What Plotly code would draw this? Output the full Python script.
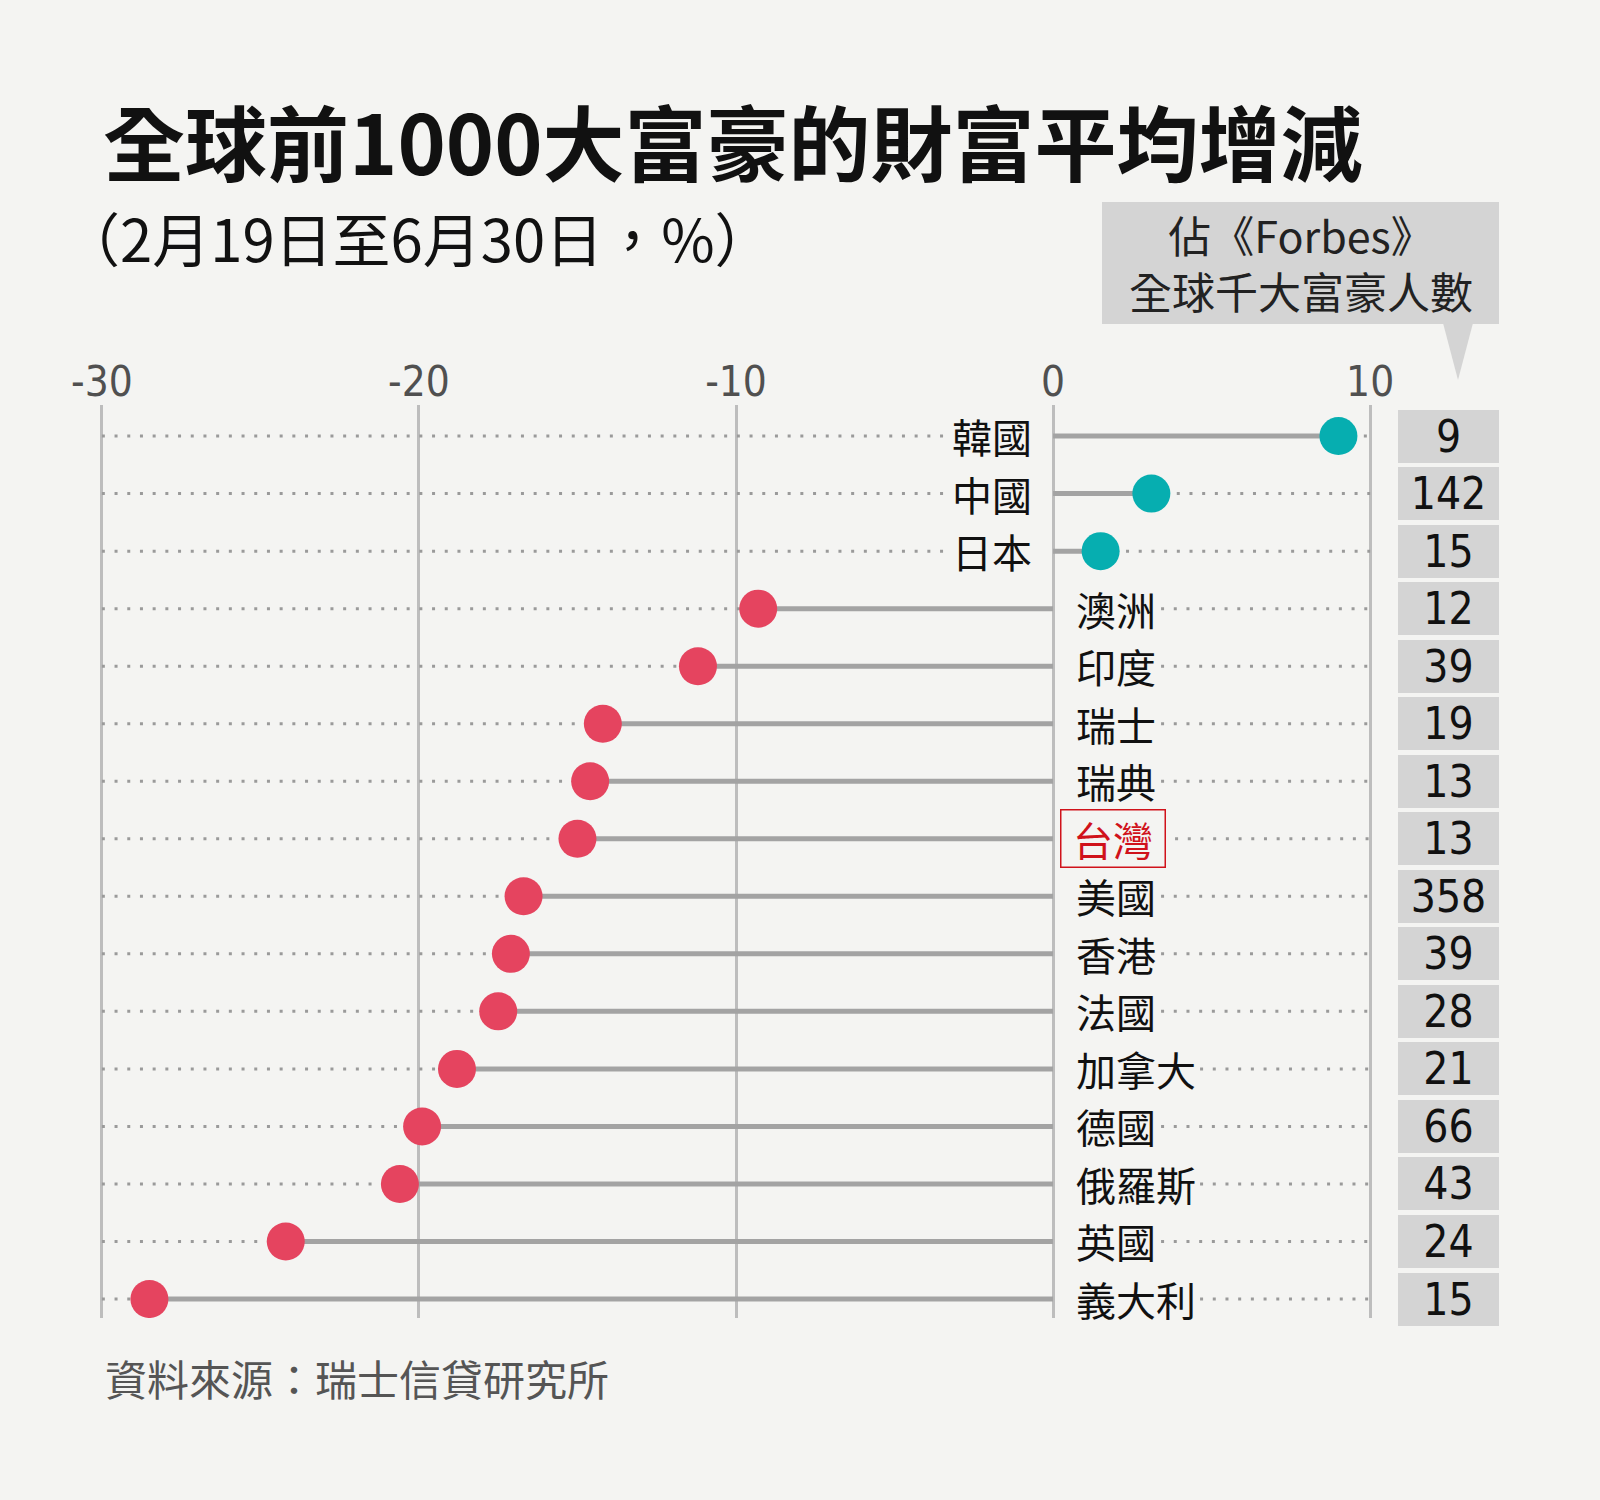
import plotly.graph_objects as go

# data
countries = ["韓國", "中國", "日本", "澳洲", "印度", "瑞士", "瑞典", "台灣",
             "美國", "香港", "法國", "加拿大", "德國", "俄羅斯", "英國", "義大利"]
change_pct = [9.0, 3.1, 1.5, -9.3, -11.2, -14.2, -14.6, -15.0,
              -16.7, -17.1, -17.5, -18.8, -19.9, -20.6, -24.2, -28.5]
forbes_count = [9, 142, 15, 12, 39, 19, 13, 13, 358, 39, 28, 21, 66, 43, 24, 15]
x_ticks = [-30, -20, -10, 0, 10]
highlight = "台灣"

title = "全球前1000大富豪的財富平均增減"
subtitle = "（2月19日至6月30日，%）"
count_header = ["佔《Forbes》", "全球千大富豪人數"]
source = "資料來源：瑞士信貸研究所"

# look
BG = "#f4f4f2"
TEAL = "#06aeb0"
PINK = "#e5445f"
RED = "#d0121b"
STEM = "#a3a3a3"
BOX = "#d4d4d4"
CJK = "Noto Sans CJK TC, Noto Sans CJK SC, sans-serif"
NARROW = "Liberation Sans Narrow, DejaVu Sans Condensed, Roboto, sans-serif"

W, H = 1600, 1500
L, R, T, B = 86, 214, 405, 182
PW, PH = W - L - R, H - T - B
X_RANGE = [-30.5, 10.5]
PPU = PW / (X_RANGE[1] - X_RANGE[0])
LABEL_SIZE = 40


def px(x):
    return (x - L) / PW


def py(y):
    return (H - B - y) / PH


# dotted guide lines, broken where the stem and the label sit
dot_x, dot_y = [], []
stem_x, stem_y = [], []
for c, v in zip(countries, change_pct):
    gap = (22 + len(c) * 39 + 8 + (14 if c == highlight else 0)) / PPU
    if v >= 0:
        segs = [(x_ticks[0], -gap), (v, x_ticks[-1])]
    else:
        segs = [(x_ticks[0], v), (gap, x_ticks[-1])]
    for a, b in segs:
        dot_x += [a, b, None]
        dot_y += [c, c, None]
    stem_x += [0, v, None]
    stem_y += [c, c, None]

fig = go.Figure()
fig.add_trace(go.Scatter(x=dot_x, y=dot_y, mode="lines", hoverinfo="skip",
                         line=dict(color="#9a9a9a", width=3, dash="3px,9.7px")))
fig.add_trace(go.Scatter(x=stem_x, y=stem_y, mode="lines", hoverinfo="skip",
                         line=dict(color=STEM, width=5)))
fig.add_trace(go.Scatter(x=change_pct, y=countries, mode="markers",
                         marker=dict(size=38, color=[TEAL if v >= 0 else PINK for v in change_pct],
                                     line=dict(width=0))))

ann = []
for c, v, n in zip(countries, change_pct, forbes_count):
    if c == highlight:
        ann.append(dict(x=0, y=c, xref="x", yref="y", text=c, showarrow=False,
                        xanchor="left", xshift=7, width=103, height=56,
                        bordercolor=RED, borderwidth=1.5, borderpad=0,
                        font=dict(family=CJK, size=LABEL_SIZE, color=RED)))
    elif v >= 0:
        ann.append(dict(x=0, y=c, xref="x", yref="y", text=c, showarrow=False,
                        xanchor="right", xshift=-19,
                        font=dict(family=CJK, size=LABEL_SIZE, color="#111111")))
    else:
        ann.append(dict(x=0, y=c, xref="x", yref="y", text=c, showarrow=False,
                        xanchor="left", xshift=21,
                        font=dict(family=CJK, size=LABEL_SIZE, color="#111111")))
    # count boxes on the right
    ann.append(dict(x=px(1448.5), y=c, xref="paper", yref="y", text=str(n),
                    showarrow=False, xanchor="center", yanchor="middle",
                    width=101, height=53, bgcolor=BOX,
                    borderwidth=0, borderpad=0,
                    font=dict(family=NARROW, size=44, color="#111111")))

ann += [
    dict(x=px(101), y=py(140), xref="paper", yref="paper", text="<b>" + title + "</b>",
         showarrow=False, xanchor="left", yanchor="middle",
         font=dict(family=CJK, size=82, color="#111111")),
    dict(x=px(60), y=py(237), xref="paper", yref="paper", text=subtitle,
         showarrow=False, xanchor="left", yanchor="middle",
         font=dict(family=CJK, size=58, color="#111111")),
    dict(x=px(1301), y=py(262), xref="paper", yref="paper",
         text=count_header[0] + "<br>" + count_header[1],
         showarrow=False, xanchor="center", yanchor="middle", align="center",
         font=dict(family=CJK, size=43, color="#222222")),
    dict(x=px(103), y=py(1377), xref="paper", yref="paper", text=source,
         showarrow=False, xanchor="left", yanchor="middle",
         font=dict(family=CJK, size=42, color="#555555")),
]

shapes = [
    dict(type="rect", xref="paper", yref="paper", layer="below",
         x0=px(1102), x1=px(1499), y0=py(324), y1=py(202),
         fillcolor=BOX, line=dict(width=0)),
    dict(type="path", xref="paper", yref="paper", layer="below",
         path=f"M {px(1443)},{py(323)} L {px(1473)},{py(323)} L {px(1458)},{py(380)} Z",
         fillcolor=BOX, line=dict(width=0)),
]

fig.update_layout(
    width=W, height=H,
    margin=dict(l=L, r=R, t=T, b=B),
    paper_bgcolor=BG, plot_bgcolor=BG,
    showlegend=False,
    annotations=ann,
    shapes=shapes,
    xaxis=dict(range=X_RANGE, side="top", tickvals=x_ticks, ticktext=[str(t) for t in x_ticks],
               showgrid=True, gridcolor="#bdbdbd", gridwidth=2.5, zeroline=False,
               showline=False, ticks="", tickfont=dict(family=NARROW, size=42, color="#505050")),
    yaxis=dict(type="category", categoryorder="array", categoryarray=countries,
               range=[15.33, -0.54], showgrid=False, zeroline=False,
               showticklabels=False, ticks=""),
)

# drop the page margin so the figure sits flush in the window
fig.write_html("out.html", config={"displayModeBar": False},
               post_script="document.body.style.margin='0';document.body.style.background='#f4f4f2';")
